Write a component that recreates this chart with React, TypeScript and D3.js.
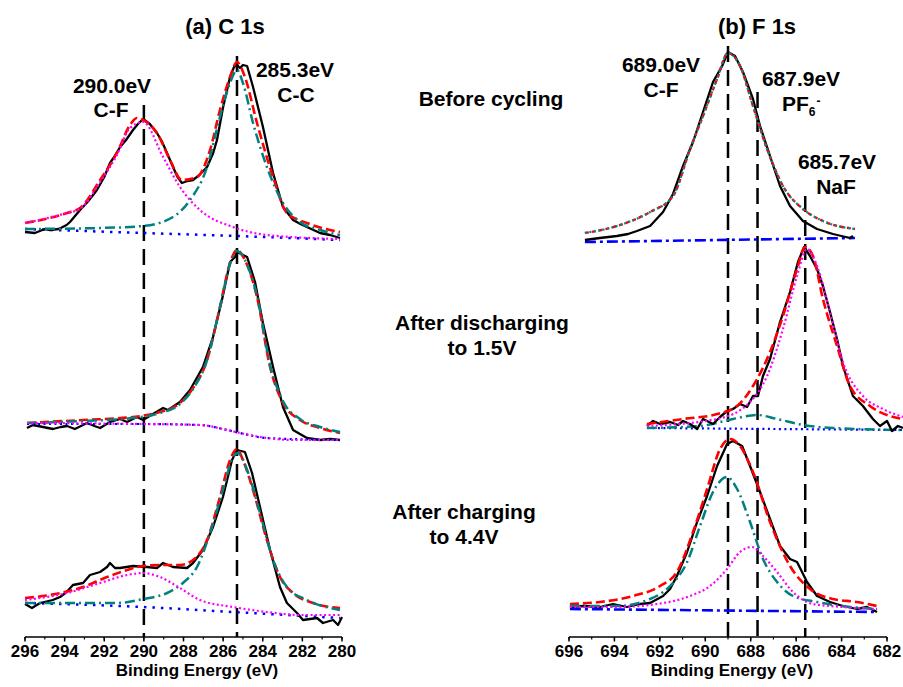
import React from "react";
import * as d3 from "d3";

type Pt = [number, number];

// ---- C 1s (binding energy eV, intensity a.u.) ----
// before cycling
const cBeforeRaw: Pt[] = [
  [296.0, 5], [295.5, 4], [295.0, 8], [294.74, 7], [294.3, 8], [293.9, 12], [293.73, 15], [293.22, 27],
  [292.8, 36], [292.37, 47], [292.0, 60], [291.71, 74], [291.5, 80], [291.2, 90], [290.9, 97], [290.55, 107],
  [290.3, 113], [290.04, 118], [289.7, 113], [289.34, 104], [289.1, 96], [288.83, 84], [288.53, 70], [288.3, 60],
  [288.08, 54], [287.8, 56], [287.52, 57], [287.2, 62], [286.81, 70], [286.5, 84], [286.31, 97], [286.0, 130],
  [285.65, 160], [285.45, 170], [285.3, 172], [285.15, 169], [285.0, 172], [284.79, 171], [284.49, 150],
  [283.99, 110], [283.48, 64], [282.98, 30], [282.47, 17], [282.1, 13], [281.77, 10], [281.11, 4], [280.6, 2], [280.1, -1],
];
const cBeforeFit: Pt[] = [
  [296.0, 14], [293.88, 24], [293.22, 29], [292.21, 57], [291.36, 84], [290.7, 112], [290.35, 119], [290.04, 117],
  [289.34, 104], [288.68, 77], [288.08, 57], [287.32, 60], [286.66, 87], [286.16, 127], [285.65, 160], [285.3, 175],
  [284.9, 160], [284.29, 114], [283.48, 60], [282.78, 24], [281.77, 14], [280.1, 5],
];
const cBeforeCF: Pt[] = [
  [296.0, 14], [293.88, 24], [293.22, 28], [292.21, 55], [291.36, 82], [290.7, 109], [290.04, 115], [289.03, 80],
  [288.18, 50], [287.17, 27], [285.5, 10], [283.79, 2], [280.1, -2],
];
const cBeforeCC: Pt[] = [
  [296.0, 8], [292.21, 9], [290.04, 11], [288.53, 20], [287.67, 37], [286.81, 70], [286.16, 120], [285.65, 154],
  [285.3, 167], [285.0, 154], [284.49, 114], [283.79, 70], [282.98, 34], [282.12, 15], [281.11, 7], [280.1, 2],
];
const cBeforeBg: Pt[] = [[296.0, 8], [290.04, 4], [285.3, 1], [280.1, -3]];

// after discharging to 1.5 V
const cDischRaw: Pt[] = [
  [295.9, 9], [295.6, 12], [295.09, 10], [294.59, 8], [294.2, 10], [293.88, 11], [293.48, 8], [292.87, 14],
  [292.5, 11], [292.21, 9], [291.71, 15], [291.2, 18], [290.85, 15], [290.35, 20], [290.04, 17], [289.54, 23],
  [289.03, 29], [288.78, 27], [288.18, 35], [287.67, 47], [287.02, 70], [286.51, 100], [286.06, 137], [285.65, 175],
  [285.4, 180], [285.3, 185], [284.79, 180], [284.39, 155], [283.99, 114], [283.48, 70], [282.98, 30], [282.47, 7],
  [281.77, -1], [281.11, -3], [280.6, -2], [280.1, -3],
];
const cDischFit: Pt[] = [
  [295.9, 14], [293.07, 17], [290.55, 20], [289.19, 25], [288.18, 34], [287.52, 49], [286.81, 77], [286.16, 130],
  [285.65, 174], [285.3, 187], [284.9, 177], [284.29, 140], [283.63, 70], [282.98, 34], [282.12, 17], [281.11, 9], [280.1, 4],
];
const cDischCC: Pt[] = [
  [295.9, 14], [293.07, 16], [290.55, 19], [289.19, 24], [288.18, 33], [287.52, 48], [286.81, 77], [286.16, 130],
  [285.65, 173], [285.3, 186], [284.9, 177], [284.29, 141], [283.63, 72], [282.98, 36], [282.12, 18], [281.11, 10], [280.1, 5],
];
const cDischCF: Pt[] = [
  [295.9, 14], [290.04, 13], [287.17, 12], [285.8, 7], [285.15, 4], [283.79, -1], [282.5, -3], [280.1, -3],
];
const cDischBg: Pt[] = [
  [295.9, 13], [290.04, 13], [287.17, 12], [285.8, 7], [285.15, 4], [283.79, -1], [280.1, -3],
];

// after charging to 4.4 V
const cChargeRaw: Pt[] = [
  [296.0, 33], [295.65, 29], [295.24, 34], [294.6, 37], [294.23, 40], [293.9, 45], [293.58, 52], [293.07, 54],
  [292.72, 62], [292.21, 65], [291.86, 70], [291.71, 74], [291.46, 69], [291.2, 69], [290.55, 71], [289.84, 70],
  [289.34, 69], [289.03, 74], [288.53, 70], [287.82, 69], [287.52, 74], [287.02, 87], [286.51, 110], [286.01, 140],
  [285.55, 177], [285.3, 187], [284.9, 185], [284.54, 164], [284.14, 130], [283.63, 87], [283.13, 50], [282.78, 34],
  [282.27, 24], [281.97, 17], [281.26, 19], [280.96, 14], [280.45, 17], [280.2, 12], [280.0, 20],
];
const cChargeFit: Pt[] = [
  [296.0, 39], [294.74, 42], [293.07, 50], [291.86, 60], [290.85, 67], [290.04, 71], [289.19, 72], [288.18, 72],
  [287.52, 77], [286.81, 97], [286.16, 140], [285.65, 177], [285.3, 188], [285.0, 177], [284.49, 147], [283.79, 97],
  [283.13, 60], [282.47, 44], [281.46, 34], [280.1, 29],
];
const cChargeCC: Pt[] = [
  [296.0, 34], [293.88, 34], [291.36, 34], [290.04, 38], [288.83, 44], [288.03, 54], [287.32, 70], [286.66, 104],
  [286.01, 147], [285.5, 180], [285.25, 184], [284.79, 167], [284.14, 124], [283.48, 77], [282.78, 50], [281.77, 37], [280.1, 27],
];
const cChargeCF: Pt[] = [
  [296.0, 37], [293.88, 44], [292.21, 54], [290.85, 62], [290.04, 64], [289.19, 60], [288.18, 49], [287.17, 37],
  [285.5, 30], [283.79, 25], [282.12, 22], [280.1, 22],
];
const cChargeBg: Pt[] = [[296.0, 34], [290.04, 30], [285.5, 25], [280.1, 19]];

// ---- F 1s ----
const fBeforeRaw: Pt[] = [
  [695.3, -3], [694.64, -1], [693.89, 1], [693.4, 3], [693.01, 6], [692.43, 11], [691.86, 25], [691.42, 43],
  [690.98, 71], [690.54, 95], [690.1, 125], [689.66, 155], [689.26, 171], [689.0, 185], [688.69, 181], [688.34, 165],
  [687.9, 138], [687.59, 111], [687.15, 81], [686.71, 51], [686.27, 31], [685.7, 16], [685.08, 8], [684.38, 3],
  [683.63, -1], [683.5, 1],
];
const fBeforeFit: Pt[] = [
  [695.3, 4], [693.89, 11], [692.43, 25], [691.42, 41], [690.67, 88], [690.1, 121], [689.48, 158], [689.0, 184],
  [688.47, 171], [687.9, 131], [687.28, 88], [686.58, 51], [685.7, 28], [684.82, 16], [683.41, 8],
];
const fBeforeCF: Pt[] = [
  [695.3, 4], [693.89, 11], [692.43, 25], [691.42, 41], [690.67, 88], [690.1, 121], [689.48, 158], [689.0, 184],
  [688.47, 171], [687.9, 131], [687.28, 88], [686.58, 51], [685.7, 28], [684.82, 16], [683.41, 8],
];
const fBeforeBg: Pt[] = [[695.3, -5], [683.41, -1]];

const fDischRaw: Pt[] = [
  [692.57, 11], [692.3, 16], [691.99, 13], [691.55, 15], [691.2, 12], [690.98, 16], [690.67, 13], [690.36, 8],
  [690.1, 18], [689.66, 13], [689.35, 20], [689.04, 26], [688.78, 28], [688.47, 33], [688.16, 30], [687.9, 41],
  [687.68, 41], [687.46, 61], [687.15, 78], [686.71, 115], [686.27, 145], [685.92, 175], [685.65, 190], [685.39, 181],
  [685.08, 168], [684.82, 151], [684.51, 125], [684.2, 98], [683.94, 71], [683.5, 41], [683.06, 31], [682.62, 18],
  [682.31, 11], [682.0, 16], [681.78, 6], [681.52, 11], [681.3, 9],
];
const fDischFit: Pt[] = [
  [692.57, 13], [690.98, 18], [689.48, 23], [688.6, 31], [687.9, 51], [687.15, 85], [686.58, 121], [685.96, 168],
  [685.61, 190], [685.26, 181], [684.82, 138], [684.2, 91], [683.63, 51], [682.75, 31], [681.3, 18],
];
const fDischNaF: Pt[] = [
  [692.57, 11], [689.48, 18], [688.03, 35], [687.28, 61], [686.58, 108], [685.96, 161], [685.52, 188], [685.08, 171],
  [684.51, 125], [683.94, 75], [683.06, 41], [682.18, 28], [681.3, 20],
];
const fDischPF6: Pt[] = [
  [692.57, 9], [690.23, 11], [688.78, 18], [687.72, 22], [686.84, 18], [685.7, 12], [684.38, 9], [681.3, 7],
];
const fDischBg: Pt[] = [[692.57, 9], [681.3, 7]];

const fChargeRaw: Pt[] = [
  [695.96, 30], [695.38, 31], [694.64, 30], [694.06, 33], [693.45, 30], [692.87, 33], [692.43, 34], [691.86, 41],
  [691.55, 48], [691.25, 61], [690.8, 85], [690.36, 115], [689.92, 141], [689.48, 171], [689.04, 193], [688.78, 196],
  [688.38, 191], [688.03, 171], [687.59, 145], [687.15, 118], [686.71, 91], [686.27, 78], [685.96, 75], [685.52, 55],
  [685.08, 41], [684.51, 35], [683.94, 31], [683.32, 28], [682.88, 30], [682.44, 25],
];
const fChargeFit: Pt[] = [
  [695.96, 33], [694.64, 35], [693.18, 41], [691.99, 51], [691.25, 65], [690.54, 105], [689.92, 148], [689.35, 188],
  [688.91, 198], [688.47, 191], [687.9, 165], [687.15, 115], [686.27, 71], [685.39, 48], [684.38, 38], [683.32, 35], [682.44, 31],
];
const fChargeCF: Pt[] = [
  [695.96, 31], [693.89, 31], [692.43, 38], [691.55, 51], [690.8, 75], [690.23, 111], [689.66, 145], [689.04, 160],
  [688.6, 148], [688.03, 115], [687.46, 78], [686.84, 55], [686.14, 41], [685.08, 35], [683.63, 30], [682.44, 28],
];
const fChargePF6: Pt[] = [
  [695.96, 30], [693.89, 30], [692.13, 33], [690.67, 41], [689.79, 51], [689.04, 68], [688.47, 85], [687.94, 90],
  [687.46, 81], [686.84, 65], [686.14, 45], [685.26, 33], [683.94, 30], [682.44, 28],
];
const fChargeBg: Pt[] = [[695.96, 28], [682.44, 25]];

// stack offsets (top, middle, bottom)
const offsets = [400, 200, 0];

// peak marker lines: position (eV) and top (stacked intensity)
const cPeaks = [290.0, 285.3];
const cPeakTops = [532, 581];
const fPeaks = [689.0, 687.7, 685.6];
const fPeakTops = [591, 545, 441];

const cDomain: [number, number] = [296, 280];
const fDomain: [number, number] = [696, 682];

const FONT = "'Liberation Sans', Arial, Helvetica, sans-serif";

const STYLE: Record<string, { stroke: string; width: number; dash?: string }> = {
  raw: { stroke: "#000000", width: 2.3 },
  fit: { stroke: "#ff0000", width: 2.6, dash: "9,4" },
  fitShort: { stroke: "#ff0000", width: 2.4, dash: "4,3" },
  teal: { stroke: "#008080", width: 2.5, dash: "10,4,2,4" },
  tealDot: { stroke: "#008b8b", width: 2.2, dash: "2,2.5" },
  magenta: { stroke: "#ff00ff", width: 2.2, dash: "2,2.5" },
  blueDot: { stroke: "#0000ff", width: 2.5, dash: "2.5,6" },
  blueDot2: { stroke: "#0000ff", width: 2.2, dash: "2,3.5" },
  blueDashDot: { stroke: "#0000ff", width: 2.6, dash: "11,4,3,4" },
};

type Curve = { data: Pt[]; role: string };

const cSpectra: Curve[][] = [
  [
    { data: cBeforeBg, role: "blueDot" },
    { data: cBeforeRaw, role: "raw" },
    { data: cBeforeFit, role: "fit" },
    { data: cBeforeCC, role: "teal" },
    { data: cBeforeCF, role: "magenta" },
  ],
  [
    { data: cDischRaw, role: "raw" },
    { data: cDischFit, role: "fit" },
    { data: cDischCC, role: "teal" },
    { data: cDischBg, role: "blueDot2" },
    { data: cDischCF, role: "magenta" },
  ],
  [
    { data: cChargeBg, role: "blueDot" },
    { data: cChargeRaw, role: "raw" },
    { data: cChargeFit, role: "fit" },
    { data: cChargeCC, role: "teal" },
    { data: cChargeCF, role: "magenta" },
  ],
];

const fSpectra: Curve[][] = [
  [
    { data: fBeforeBg, role: "blueDashDot" },
    { data: fBeforeRaw, role: "raw" },
    { data: fBeforeFit, role: "fitShort" },
    { data: fBeforeCF, role: "tealDot" },
  ],
  [
    { data: fDischBg, role: "blueDot2" },
    { data: fDischPF6, role: "teal" },
    { data: fDischRaw, role: "raw" },
    { data: fDischFit, role: "fit" },
    { data: fDischNaF, role: "magenta" },
  ],
  [
    { data: fChargeBg, role: "blueDashDot" },
    { data: fChargeRaw, role: "raw" },
    { data: fChargeFit, role: "fit" },
    { data: fChargeCF, role: "teal" },
    { data: fChargePF6, role: "magenta" },
  ],
];

const AXIS_Y = 637;

function Panel({
  domain, range, spectra, peaks, peakTops,
}: {
  domain: [number, number]; range: [number, number]; spectra: Curve[][]; peaks: number[]; peakTops: number[];
}) {
  const x = d3.scaleLinear().domain(domain).range(range);
  const y = d3.scaleLinear().domain([0, 600]).range([AXIS_Y, AXIS_Y - 600]);
  const major = x.ticks(Math.abs(domain[0] - domain[1]) / 2);
  const minor = x.ticks(Math.abs(domain[0] - domain[1]));

  return (
    <g>
      {peaks.map((p, i) => (
        <line key={"pk" + i} x1={x(p)} x2={x(p)} y1={y(peakTops[i])} y2={AXIS_Y}
          stroke="#000" strokeWidth={2.5} strokeDasharray="16,8" />
      ))}
      {spectra.map((curves, si) =>
        curves.map((c, ci) => {
          const st = STYLE[c.role];
          const gen = d3.line<Pt>()
            .x(d => x(d[0]))
            .y(d => y(d[1] + offsets[si]))
            .curve(c.role === "raw" ? d3.curveLinear : d3.curveMonotoneX);
          return (
            <path key={si + "-" + ci} d={gen(c.data) || ""} fill="none" stroke={st.stroke}
              strokeWidth={st.width} strokeDasharray={st.dash} strokeLinejoin="round" />
          );
        })
      )}
      <line x1={range[0]} x2={range[1]} y1={AXIS_Y} y2={AXIS_Y} stroke="#000" strokeWidth={1.5} />
      {minor.map(t => (
        <line key={"mn" + t} x1={x(t)} x2={x(t)} y1={AXIS_Y} y2={AXIS_Y + 2.5} stroke="#000" strokeWidth={1.2} />
      ))}
      {major.map(t => (
        <g key={"mj" + t}>
          <line x1={x(t)} x2={x(t)} y1={AXIS_Y} y2={AXIS_Y + 4.5} stroke="#000" strokeWidth={1.5} />
          <text x={x(t)} y={657} textAnchor="middle" fontSize={17} fontWeight="bold" fontFamily={FONT}>
            {t}
          </text>
        </g>
      ))}
    </g>
  );
}

const T = ({ x, y, size = 21, children }: { x: number; y: number; size?: number; children: React.ReactNode }) => (
  <text x={x} y={y} textAnchor="middle" fontSize={size} fontWeight="bold" fontFamily={FONT} fill="#000">
    {children}
  </text>
);

export default function App() {
  return (
    <svg width={903} height={687} style={{ position: "absolute", left: 0, top: 0, background: "#fff" }}>
      <rect width={903} height={687} fill="#fff" />
      <Panel domain={cDomain} range={[25, 342]} spectra={cSpectra} peaks={cPeaks} peakTops={cPeakTops} />
      <Panel domain={fDomain} range={[569, 887]} spectra={fSpectra} peaks={fPeaks} peakTops={fPeakTops} />

      <T x={225} y={34} size={22}>(a) C 1s</T>
      <T x={757} y={34} size={22}>(b) F 1s</T>

      <T x={112} y={93}>290.0eV</T>
      <T x={111} y={117}>C-F</T>
      <T x={295} y={77}>285.3eV</T>
      <T x={296} y={102}>C-C</T>

      <T x={661} y={72}>689.0eV</T>
      <T x={661} y={97}>C-F</T>
      <T x={801} y={86}>687.9eV</T>
      <text x={782} y={111} fontSize={21} fontWeight="bold" fontFamily={FONT}>
        PF<tspan fontSize={12} dy={5}>6</tspan><tspan fontSize={12} dy={-11} dx={1}>-</tspan>
      </text>
      <T x={837} y={169}>685.7eV</T>
      <T x={836} y={194}>NaF</T>

      <T x={491} y={106}>Before cycling</T>
      <T x={482} y={330}>After discharging</T>
      <T x={482} y={355}>to 1.5V</T>
      <T x={464} y={519}>After charging</T>
      <T x={464} y={544}>to 4.4V</T>

      <T x={197} y={676} size={17}>Binding Energy (eV)</T>
      <T x={732} y={676} size={17}>Binding Energy (eV)</T>
    </svg>
  );
}
